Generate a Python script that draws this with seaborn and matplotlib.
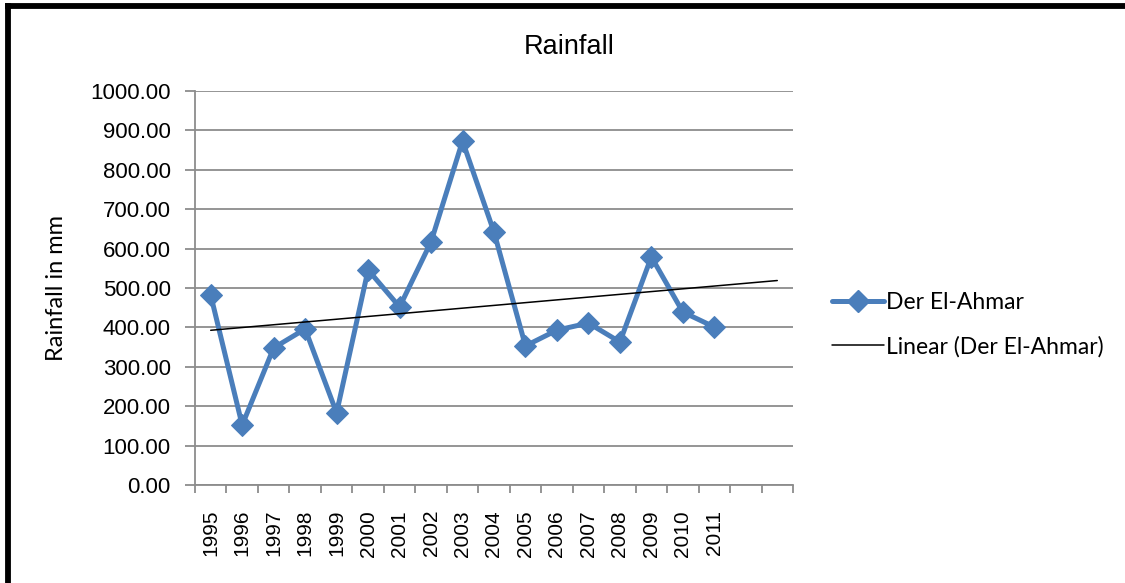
import numpy as np
import pandas as pd
import matplotlib
matplotlib.use("Agg")
import matplotlib.pyplot as plt
from matplotlib.lines import Line2D
import seaborn as sns

# Annual rainfall (mm) at Der El-Ahmar
years = ["1995", "1996", "1997", "1998", "1999", "2000", "2001", "2002", "2003",
         "2004", "2005", "2006", "2007", "2008", "2009", "2010", "2011"]
rainfall = [482, 152, 348, 396, 183, 546, 452, 617, 873,
            642, 353, 393, 411, 363, 579, 439, 401]
# two empty category slots follow the last year on the axis
n_slots = 19
y_ticks = [0, 100, 200, 300, 400, 500, 600, 700, 800, 900, 1000]

sns.set_theme(style="white")
plt.rcParams["font.family"] = ["Liberation Sans", "DejaVu Sans"]
plt.rcParams["text.color"] = "black"
plt.rcParams["xtick.color"] = "black"
plt.rcParams["ytick.color"] = "black"
plt.rcParams["axes.labelcolor"] = "black"

blue = "#4A7EBB"
grid_gray = "#8C8C8C"

df = pd.DataFrame({"pos": np.arange(len(years)), "rain": rainfall})

# least-squares trend over the observed years, extended across all slots
coef = np.polyfit(df["pos"], df["rain"], 1)
trend = pd.DataFrame({"pos": np.arange(n_slots)})
trend["rain"] = np.polyval(coef, trend["pos"])

fig = plt.figure(figsize=(11.25, 5.83), dpi=100)
ax = fig.add_axes([0.1733, 0.1681, 0.7049 - 0.1733, 0.8439 - 0.1681])

ax.set_axisbelow(True)
sns.lineplot(data=df, x="pos", y="rain", ax=ax, color=blue, linewidth=3.6,
             marker="D", markersize=11, markeredgecolor=blue, zorder=3)
sns.lineplot(data=trend, x="pos", y="rain", ax=ax, color="black",
             linewidth=1.1, zorder=4)

ax.set_xlim(-0.5, n_slots - 0.5)
ax.set_ylim(0, 1000)
ax.set_yticks(y_ticks)
ax.set_yticklabels([f"{v:.2f}" for v in y_ticks], fontsize=16)
ax.yaxis.grid(True, color=grid_gray, linewidth=1.3)
ax.xaxis.grid(False)

ax.set_xticks(np.arange(len(years)))
ax.set_xticklabels(years, rotation=90, fontsize=15)
ax.set_xticks(np.arange(n_slots + 1) - 0.5, minor=True)
ax.tick_params(axis="x", which="major", length=0, pad=18)
ax.tick_params(axis="x", which="minor", length=6, width=1.3, color=grid_gray,
               direction="out", bottom=True)
ax.tick_params(axis="y", length=7, width=1.3, color=grid_gray,
               direction="out", left=True, pad=10.5, labelcolor="black")

for side in ["top", "right"]:
    ax.spines[side].set_visible(False)
for side in ["left", "bottom"]:
    ax.spines[side].set_color(grid_gray)
    ax.spines[side].set_linewidth(1.3)

ax.set_xlabel("")
ax.set_ylabel("Rainfall in mm", fontsize=17, family=["Lato", "DejaVu Sans"],
              labelpad=17, color="black")
fig.text(0.506, 0.92, "Rainfall", ha="center", va="center", fontsize=19.5,
         color="black")

handles = [
    Line2D([], [], color=blue, linewidth=3.6, marker="D", markersize=11),
    Line2D([], [], color="black", linewidth=1.1),
]
fig.legend(handles, ["Der El-Ahmar", "Linear (Der El-Ahmar)"],
           loc="center left", bbox_to_anchor=(0.721, 0.443), frameon=False,
           prop={"family": ["Lato", "DejaVu Sans"], "size": 16.5},
           handlelength=2.3, handletextpad=0.05, labelspacing=1.0,
           labelcolor="black")

# heavy frame along the left and top edges
fig.add_artist(Line2D([0.0071, 0.0071], [0, 0.990], color="black",
                      linewidth=4.2, transform=fig.transFigure,
                      solid_capstyle="projecting"))
fig.add_artist(Line2D([0.0071, 1.0], [0.990, 0.990], color="black",
                      linewidth=4.2, transform=fig.transFigure,
                      solid_capstyle="projecting"))

fig.savefig("out.png", dpi=100)
